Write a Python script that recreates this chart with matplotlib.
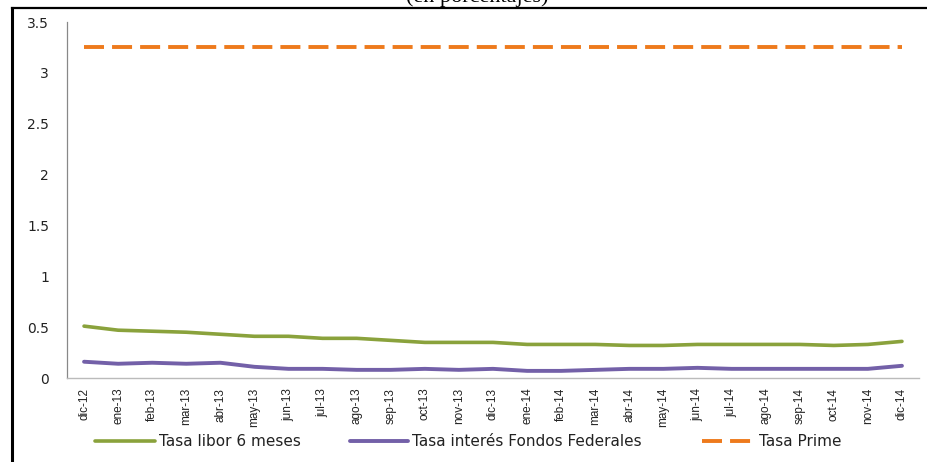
import matplotlib
matplotlib.use("Agg")
import matplotlib.pyplot as plt
from matplotlib.lines import Line2D

months = ["dic-12", "ene-13", "feb-13", "mar-13", "abr-13", "may-13", "jun-13",
          "jul-13", "ago-13", "sep-13", "oct-13", "nov-13", "dic-13", "ene-14",
          "feb-14", "mar-14", "abr-14", "may-14", "jun-14", "jul-14", "ago-14",
          "sep-14", "oct-14", "nov-14", "dic-14"]

libor_6m = [0.51, 0.47, 0.46, 0.45, 0.43, 0.41, 0.41, 0.39, 0.39, 0.37, 0.35,
            0.35, 0.35, 0.33, 0.33, 0.33, 0.32, 0.32, 0.33, 0.33, 0.33, 0.33,
            0.32, 0.33, 0.36]

fed_funds = [0.16, 0.14, 0.15, 0.14, 0.15, 0.11, 0.09, 0.09, 0.08, 0.08, 0.09,
             0.08, 0.09, 0.07, 0.07, 0.08, 0.09, 0.09, 0.10, 0.09, 0.09, 0.09,
             0.09, 0.09, 0.12]

prime = [3.25] * len(months)

yticks = [0, 0.5, 1, 1.5, 2, 2.5, 3, 3.5]
ytick_labels = ["0", "0.5", "1", "1.5", "2", "2.5", "3", "3.5"]

series_names = ["Tasa libor 6 meses", "Tasa interés Fondos Federales", "Tasa Prime"]

W, H = 927, 462
fig = plt.figure(figsize=(W / 100, H / 100), dpi=100)
ax = fig.add_axes([67 / W, 1 - 378 / H, (919 - 67) / W, (378 - 22) / H])

x = list(range(len(months)))
green = "#8aa23c"
purple = "#7360a8"
orange = "#ee7a1c"
text_color = "#222222"

h1, = ax.plot(x, libor_6m, color=green, lw=2.6, solid_joinstyle="round",
              solid_capstyle="round", label=series_names[0])
h2, = ax.plot(x, fed_funds, color=purple, lw=2.8, solid_joinstyle="round",
              solid_capstyle="round", label=series_names[1])
h3, = ax.plot(x, prime, color=orange, lw=2.8, label=series_names[2])
h3.set_dashes([14.4 / 2.8, 5.8 / 2.8])

ax.set_xlim(-0.5, len(months) - 0.5)
ax.set_ylim(0, 3.5)
ax.set_yticks(yticks)
ax.set_yticklabels(ytick_labels, fontsize=10, family="DejaVu Sans", color=text_color)
ax.set_xticks(x)
ax.set_xticklabels(months, rotation=90, fontsize=8.5, family="Liberation Sans",
                   color=text_color)
ax.tick_params(axis="y", length=0, pad=13)
ax.tick_params(axis="x", length=0, pad=7)

for side in ("top", "right"):
    ax.spines[side].set_visible(False)
ax.spines["left"].set_color("#888888")
ax.spines["left"].set_linewidth(0.9)
ax.spines["bottom"].set_color("#bbbbbb")
ax.spines["bottom"].set_linewidth(1.0)

# One legend entry per series, laid out along the bottom
legend_x = [95, 350, 702]
handle_len_px = [60, 58, 53]
font_px = 11 * 100 / 72
for handle, name, lx, hl in zip([h1, h2, h3], series_names, legend_x, handle_len_px):
    leg = fig.legend(handles=[handle], labels=[name], loc="center left",
                     bbox_to_anchor=(lx / W, 1 - 442 / H), frameon=False,
                     prop={"family": "DejaVu Sans", "size": 11},
                     handlelength=hl / font_px, handletextpad=0.25,
                     borderpad=0, borderaxespad=0)
    for t in leg.get_texts():
        t.set_color(text_color)

# Outer frame and the partly visible heading above it
fig.add_artist(Line2D([12 / W, 12 / W], [0, 1 - 8 / H], transform=fig.transFigure,
                      color="black", lw=2.2))
fig.add_artist(Line2D([12 / W, 1], [1 - 8 / H, 1 - 8 / H], transform=fig.transFigure,
                      color="black", lw=1.6))
fig.text(477 / W, 1 - 2 / H, "(en porcentajes)", ha="center", va="baseline",
         family="Liberation Serif", fontsize=16, color="black")

fig.savefig("out.png", dpi=100)
